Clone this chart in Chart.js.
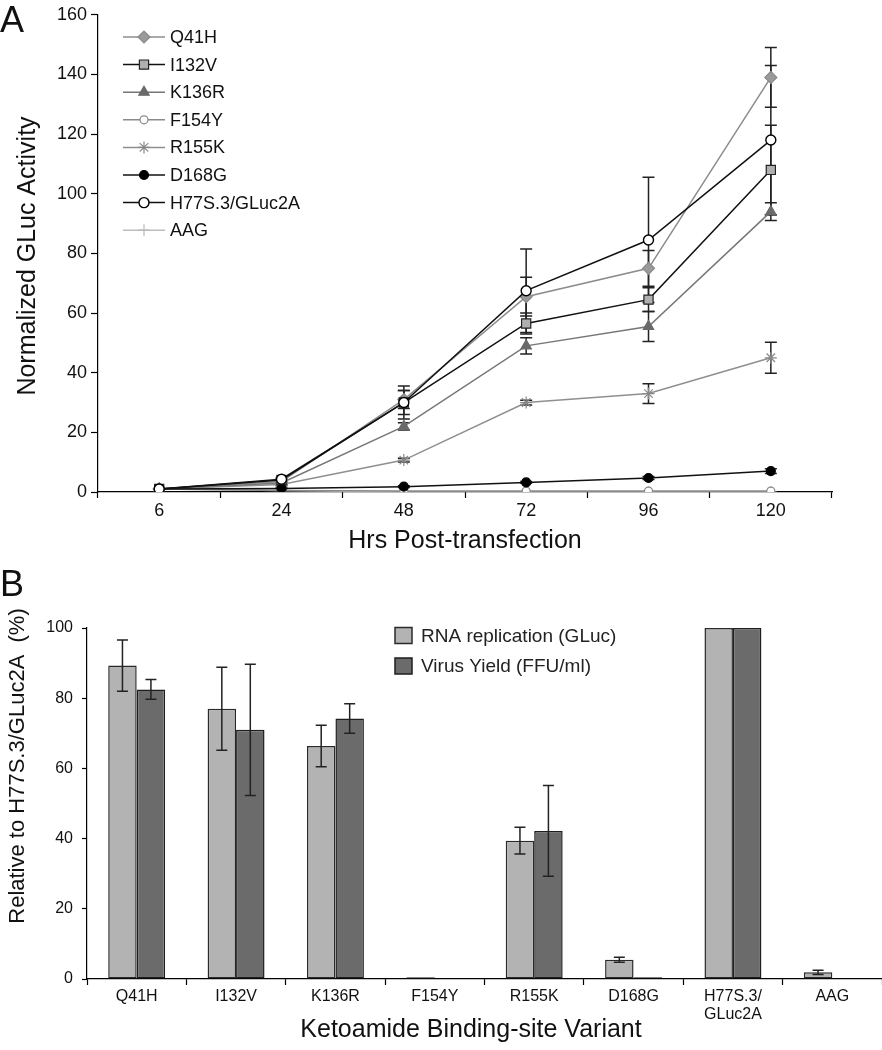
<!DOCTYPE html>
<html>
<head>
<meta charset="utf-8">
<script src="https://cdn.jsdelivr.net/npm/chart.js@4.4.0/dist/chart.umd.min.js"></script>
<style>
  html, body { margin: 0; padding: 0; background: #fff; }
  #page { position: relative; width: 882px; height: 1050px; overflow: hidden; }
  .panel { position: absolute; left: 0; }
  #topWrap { top: 0; }
  #botWrap { top: 560px; }
</style>
</head>
<body>
<div id="page">
  <div class="panel" id="topWrap"><canvas id="growthChart" width="882" height="560"></canvas></div>
  <div class="panel" id="botWrap"><canvas id="variantChart" width="882" height="490"></canvas></div>
</div>
<script>
// ---- panel A data (normalized GLuc activity, mean and error) ----
const hours = ['6', '24', '48', '72', '96', '120'];
const q41h = [1, 3.5, 31, 65.5, 75, 139];
const q41hErr = [0, 0.3, 3, 6.5, 6, 10];
const i132v = [1, 4, 30, 56.5, 64.5, 108];
const i132vErr = [0, 0.3, 4, 3.5, 4, 15];
const k136r = [1, 3, 22, 49, 55.5, 94];
const k136rErr = [0, 0.3, 1.2, 2.7, 5, 3];
const f154y = [1, 0.5, 0.3, 0.3, 0.3, 0.3];
const r155k = [1, 2.5, 10.7, 30, 33, 45];
const r155kErr = [0, 0.2, 0.6, 0.8, 3.3, 5.2];
const d168g = [1, 1.2, 1.8, 3.2, 4.7, 7];
const d168gErr = [0, 0.1, 0.3, 0.3, 0.5, 0.8];
const h77s = [1, 4.3, 30, 67.5, 84.5, 118];
const h77sErr = [0, 0.4, 5.5, 14, 21, 25];
const aag = [1, 0.5, 0, 0, 0, 0];
const growthTicks = [0, 20, 40, 60, 80, 100, 120, 140, 160];

// ---- panel B data (% of H77S.3/GLuc2A) ----
const variants = ['Q41H', 'I132V', 'K136R', 'F154Y', 'R155K', 'D168G', ['H77S.3/', 'GLuc2A'], 'AAG'];
const rnaReplication = [89.3, 77, 66.4, 0.5, 39.4, 5.5, 100, 1.9];
const rnaErr = [7.3, 11.8, 5.9, 0, 3.8, 0.7, 0, 0.6];
const virusYield = [82.5, 71, 74.2, 0, 42.2, 0.5, 100, 0];
const virusErr = [2.8, 18.7, 4.2, 0, 12.9, 0, 0, 0];

const FONT = '"Liberation Sans", Arial, Helvetica, sans-serif';

// error bars, drawn from the dataset's "errors" array through the y scale
function drawErrorBars(chart, capHalf) {
    const ctx = chart.ctx;
    const yScale = chart.scales.y;
    ctx.save();
    ctx.strokeStyle = '#222';
    ctx.lineWidth = 1.5;
    chart.data.datasets.forEach((ds, i) => {
        if (!ds.errors) return;
        const meta = chart.getDatasetMeta(i);
        meta.data.forEach((el, j) => {
            const e = ds.errors[j];
            if (!e) return;
            const v = ds.data[j];
            const x = el.x;
            const yTop = yScale.getPixelForValue(v + e);
            const yBot = yScale.getPixelForValue(Math.max(v - e, 0));
            ctx.beginPath();
            ctx.moveTo(x, yTop); ctx.lineTo(x, yBot);
            ctx.moveTo(x - capHalf, yTop); ctx.lineTo(x + capHalf, yTop);
            ctx.moveTo(x - capHalf, yBot); ctx.lineTo(x + capHalf, yBot);
            ctx.stroke();
        });
    });
    ctx.restore();
}

// free text: panel letters and axis titles
const freeText = {
    id: 'freeText',
    afterDraw(chart, args, opts) {
        const ctx = chart.ctx;
        (opts.items || []).forEach(t => {
            ctx.save();
            ctx.font = t.font;
            ctx.fillStyle = '#111';
            ctx.textAlign = t.align || 'center';
            ctx.textBaseline = t.baseline || 'alphabetic';
            ctx.translate(t.x, t.y);
            if (t.rotate) ctx.rotate(t.rotate);
            ctx.fillText(t.text, 0, 0);
            ctx.restore();
        });
    }
};

// panel A legend: line sample with marker, inside the plot
const lineLegend = {
    id: 'lineLegend',
    afterDraw(chart) {
        const ctx = chart.ctx;
        chart.data.datasets.forEach((ds, i) => {
            const y = 37 + i * 27.6;
            ctx.save();
            ctx.strokeStyle = ds.borderColor;
            ctx.lineWidth = ds.borderWidth;
            ctx.beginPath();
            ctx.moveTo(123, y); ctx.lineTo(165, y);
            ctx.stroke();
            ctx.fillStyle = ds.pointBackgroundColor;
            ctx.strokeStyle = ds.pointBorderColor;
            ctx.lineWidth = ds.pointBorderWidth;
            Chart.helpers.drawPoint(ctx, {
                pointStyle: ds.pointStyle,
                radius: ds.pointRadius,
                rotation: 0,
                borderWidth: ds.pointBorderWidth
            }, 144, y);
            ctx.fillStyle = '#111';
            ctx.font = '18px ' + FONT;
            ctx.textBaseline = 'middle';
            ctx.fillText(ds.label, 170, y + 1);
            ctx.restore();
        });
    }
};

// panel B legend: boxes
const boxLegend = {
    id: 'boxLegend',
    afterDraw(chart) {
        const ctx = chart.ctx;
        chart.data.datasets.forEach((ds, i) => {
            const y = 75.5 + i * 30.5;
            ctx.save();
            ctx.fillStyle = ds.backgroundColor;
            ctx.strokeStyle = ds.borderColor;
            ctx.lineWidth = 1.5;
            ctx.fillRect(395, y - 8, 17, 16);
            ctx.strokeRect(395, y - 8, 17, 16);
            ctx.fillStyle = '#222';
            ctx.font = '19px ' + FONT;
            ctx.textBaseline = 'middle';
            ctx.fillText(ds.label, 421, y + 1);
            ctx.restore();
        });
    }
};

function lineSeries(label, data, errors, color, style, extra) {
    return Object.assign({
        label: label,
        data: data,
        errors: errors,
        borderColor: color,
        borderWidth: 1.5,
        pointStyle: style,
        pointRadius: 5,
        pointBackgroundColor: color,
        pointBorderColor: color,
        pointBorderWidth: 1.2,
        fill: false,
        tension: 0,
        order: 5
    }, extra || {});
}

const axisGrid = (len) => ({ drawOnChartArea: false, color: '#000', tickLength: len, tickWidth: 1.2 });
const axisBorder = { color: '#000', width: 1.2 };
// zero-height bars get no outline
const barBorder = c => (c.raw > 0 ? 1.5 : 0);

new Chart(document.getElementById('growthChart'), {
    type: 'line',
    data: {
        labels: hours,
        datasets: [
            lineSeries('Q41H', q41h, q41hErr, '#8c8c8c', 'rectRot',
                { pointRadius: 6, pointBackgroundColor: '#9a9a9a', pointBorderColor: '#8a8a8a', order: 4 }),
            lineSeries('I132V', i132v, i132vErr, '#111', 'rect',
                { pointRadius: 6.5, pointBackgroundColor: '#b0b0b0', pointBorderColor: '#222', order: 1 }),
            lineSeries('K136R', k136r, k136rErr, '#777', 'triangle',
                { pointRadius: 6, pointBackgroundColor: '#6a6a6a', pointBorderColor: '#6a6a6a', order: 3 }),
            lineSeries('F154Y', f154y, null, '#8a8a8a', 'circle',
                { pointRadius: 4, pointBackgroundColor: '#fff', pointBorderColor: '#888', order: 6 }),
            lineSeries('R155K', r155k, r155kErr, '#8f8f8f', 'star',
                { pointRadius: 6, pointBorderColor: '#888', order: 5 }),
            lineSeries('D168G', d168g, d168gErr, '#111', 'circle',
                { pointRadius: 4.5, pointBackgroundColor: '#000', pointBorderColor: '#000', order: 2 }),
            lineSeries('H77S.3/GLuc2A', h77s, h77sErr, '#111', 'circle',
                { pointRadius: 5, pointBackgroundColor: '#fff', pointBorderColor: '#000', pointBorderWidth: 1.4, order: 0 }),
            lineSeries('AAG', aag, null, '#bdbdbd', 'cross',
                { pointRadius: 6, pointBorderColor: '#bbb', order: 7 })
        ]
    },
    options: {
        responsive: false,
        animation: false,
        layout: { padding: { left: 0, right: 50, top: 12, bottom: 0 } },
        plugins: {
            legend: { display: false },
            tooltip: { enabled: false },
            freeText: {
                items: [
                    { text: 'A', x: 0, y: 32, align: 'left', font: '36px ' + FONT },
                    { text: 'Normalized GLuc Activity', x: 28, y: 256, rotate: -Math.PI / 2,
                      baseline: 'middle', font: '25px ' + FONT },
                    { text: 'Hrs Post-transfection', x: 465, y: 548, font: '25px ' + FONT }
                ]
            }
        },
        scales: {
            x: {
                offset: true,
                grid: Object.assign({ offset: true }, axisGrid(6)),
                border: axisBorder,
                ticks: { color: '#111', font: { family: FONT, size: 18 }, padding: 2 },
                afterFit: s => { s.height = 560 - 492; }
            },
            y: {
                min: 0,
                max: 160,
                afterBuildTicks: s => { s.ticks = growthTicks.map(v => ({ value: v })); },
                grid: axisGrid(7),
                border: axisBorder,
                ticks: { color: '#111', font: { family: FONT, size: 18 }, padding: 4 },
                afterFit: s => { s.width = 98; }
            }
        }
    },
    plugins: [
        { id: 'growthErrors', beforeDatasetsDraw: c => drawErrorBars(c, 6) },
        lineLegend,
        freeText
    ]
});

new Chart(document.getElementById('variantChart'), {
    type: 'bar',
    data: {
        labels: variants,
        datasets: [
            {
                label: 'RNA replication (GLuc)',
                data: rnaReplication,
                errors: rnaErr,
                backgroundColor: '#b3b3b3',
                borderColor: '#2a2a2a',
                borderWidth: barBorder,
                borderSkipped: false,
                categoryPercentage: 0.573,
                barPercentage: 1
            },
            {
                label: 'Virus Yield (FFU/ml)',
                data: virusYield,
                errors: virusErr,
                backgroundColor: '#6b6b6b',
                borderColor: '#1e1e1e',
                borderWidth: barBorder,
                borderSkipped: false,
                categoryPercentage: 0.573,
                barPercentage: 1
            }
        ]
    },
    options: {
        responsive: false,
        animation: false,
        layout: { padding: { left: 0, right: 0, top: 68, bottom: 0 } },
        plugins: {
            legend: { display: false },
            tooltip: { enabled: false },
            freeText: {
                items: [
                    { text: 'B', x: 0, y: 36, align: 'left', font: '36px ' + FONT },
                    { text: 'Relative to H77S.3/GLuc2A  (%)', x: 18, y: 206, rotate: -Math.PI / 2,
                      baseline: 'middle', font: '22px ' + FONT },
                    { text: 'Ketoamide Binding-site Variant', x: 471, y: 477, font: '25px ' + FONT }
                ]
            }
        },
        scales: {
            x: {
                grid: Object.assign({ offset: true }, axisGrid(6)),
                border: axisBorder,
                ticks: { color: '#111', font: { family: FONT, size: 16, lineHeight: 1.15 }, padding: 2, maxRotation: 0 },
                afterFit: s => { s.height = 490 - 419; }
            },
            y: {
                min: 0,
                max: 100,
                ticks: { stepSize: 20, color: '#111', font: { family: FONT, size: 16 }, padding: 9 },
                grid: axisGrid(5),
                border: axisBorder,
                afterFit: s => { s.width = 87; }
            }
        }
    },
    plugins: [
        { id: 'variantErrors', afterDatasetsDraw: c => drawErrorBars(c, 5.5) },
        boxLegend,
        freeText
    ]
});
</script>
</body>
</html>
